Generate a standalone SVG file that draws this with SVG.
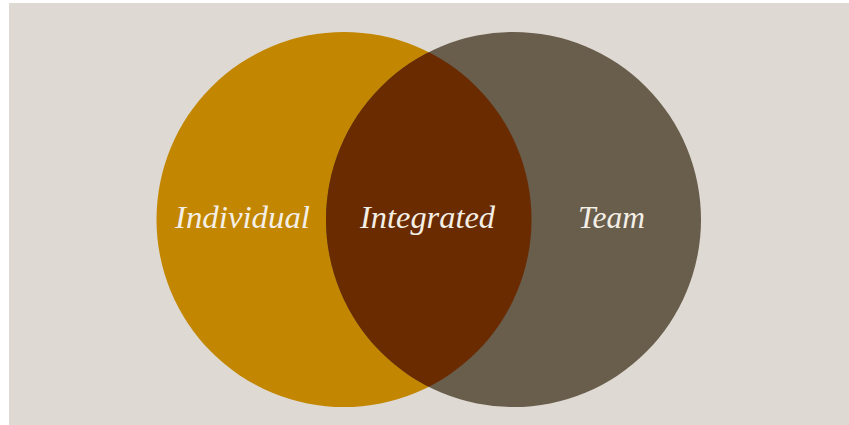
<svg xmlns="http://www.w3.org/2000/svg" width="849" height="425" viewBox="0 0 849 425">
  <style>
    .label { font-family: "Liberation Serif", "DejaVu Serif", serif; font-style: italic; font-size: 31px; fill: #f4efe6; }
  </style>
  <rect width="849" height="425" fill="#ffffff"/>
  <rect x="9" y="3" width="840" height="422" fill="#dedad3"/>
  <defs>
    <clipPath id="leftClip">
      <circle cx="344" cy="219.5" r="187.5"/>
    </clipPath>
  </defs>
  <g id="individual">
    <circle cx="344" cy="219.5" r="187.5" fill="#c38600"/>
    <text class="label" x="175" y="228" textLength="135" lengthAdjust="spacingAndGlyphs">Individual</text>
  </g>
  <g id="team">
    <circle cx="513.5" cy="219.5" r="187.5" fill="#695d4c"/>
    <text class="label" x="578" y="228" textLength="67" lengthAdjust="spacingAndGlyphs">Team</text>
  </g>
  <g id="integrated">
    <circle cx="513.5" cy="219.5" r="187.5" fill="#6a2b00" clip-path="url(#leftClip)"/>
    <text class="label" x="360" y="228" textLength="135" lengthAdjust="spacingAndGlyphs">Integrated</text>
  </g>
  <g id="connectors"/>
</svg>
